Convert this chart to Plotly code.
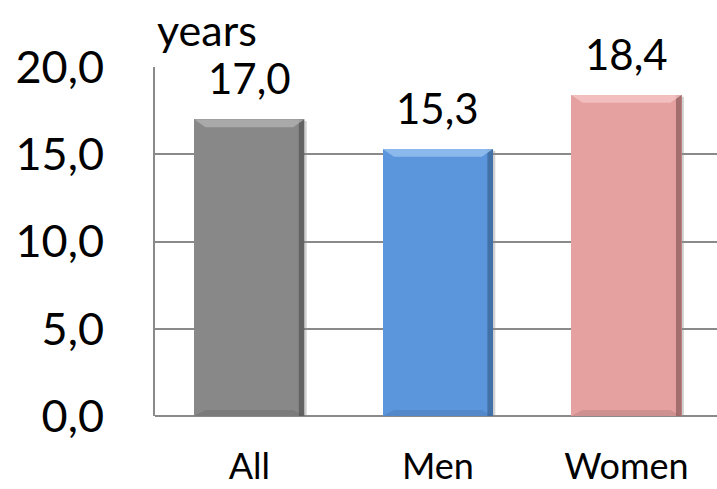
import plotly.graph_objects as go

categories = ["All", "Men", "Women"]
values = [17.0, 15.3, 18.4]
value_labels = ["17,0", "15,3", "18,4"]
tick_values = [0, 5, 10, 15, 20]
tick_labels = ["0,0", "5,0", "10,0", "15,0", "20,0"]

bar_colors = ["#888888", "#5B95DC", "#E5A0A0"]
edge_dark = ["#555555", "#3A6696", "#8E5E5E"]
edge_light = ["#B4B4B4", "#9CC6F2", "#F6C8C8"]

FONT = "Lato, Open Sans, sans-serif"
BAR_W = 0.585
xs = list(range(len(categories)))

fig = go.Figure()
fig.add_trace(go.Bar(
    x=xs, y=values, width=BAR_W,
    marker=dict(color=bar_colors, line=dict(width=0)),
    cliponaxis=False,
))

# bevel: darker right edge, light top band, faint drop shadow
shapes = []
for x, v, dk, lt in zip(xs, values, edge_dark, edge_light):
    l, r = x - BAR_W / 2, x + BAR_W / 2
    shapes.append(dict(type="rect", xref="x", yref="y", x0=r, x1=r + 0.012,
                       y0=-0.12, y1=v - 0.1, fillcolor="rgba(0,0,0,0.18)",
                       line=dict(width=0), layer="below"))
    shapes.append(dict(type="rect", xref="x", yref="y", x0=r - 0.03, x1=r,
                       y0=0, y1=v, fillcolor=dk, opacity=0.75,
                       line=dict(width=0)))
    shapes.append(dict(type="path", xref="x", yref="y",
                       path=f"M {l},{v} L {r},{v} L {r-0.06},{v-0.45} L {l+0.06},{v-0.45} Z",
                       fillcolor=lt, opacity=0.75, line=dict(width=0)))
    shapes.append(dict(type="path", xref="x", yref="y",
                       path=f"M {l},0 L {r},0 L {r-0.06},0.35 L {l+0.06},0.35 Z",
                       fillcolor=dk, opacity=0.25, line=dict(width=0)))

# value labels sitting above each bar
annotations = [dict(
    x=x, y=v, xref="x", yref="y", text=t, showarrow=False,
    xanchor="center", yanchor="bottom", yshift=14,
    font=dict(family=FONT, size=42, color="#000000"),
) for x, v, t in zip(xs, values, value_labels)]

annotations.append(dict(
    text="years", xref="paper", yref="paper", x=0, y=1,
    xanchor="left", yanchor="bottom", yshift=10, showarrow=False,
    font=dict(family=FONT, size=43, color="#000000"),
))

fig.update_layout(
    width=717, height=489,
    margin=dict(l=155, r=0, t=67, b=73),
    paper_bgcolor="white", plot_bgcolor="white",
    showlegend=False, bargap=0,
    shapes=shapes,
    annotations=annotations,
    xaxis=dict(
        range=[-0.5, 2.48], tickvals=xs, ticktext=categories,
        tickfont=dict(family=FONT, size=36, color="#000000"),
        showgrid=False, zeroline=False, showline=False, ticks="",
        ticklabelstandoff=26, automargin=False,
    ),
    yaxis=dict(
        range=[0, 20], tickvals=tick_values, ticktext=tick_labels,
        tickfont=dict(family=FONT, size=45, color="#000000"),
        showgrid=True, gridcolor="#8A8A8A", gridwidth=1.5,
        zeroline=True, zerolinecolor="#8A8A8A", zerolinewidth=2,
        showline=True, linecolor="#8A8A8A", linewidth=2,
        ticks="", ticklabelstandoff=40, automargin=False,
    ),
)

fig.write_html("out.html")
